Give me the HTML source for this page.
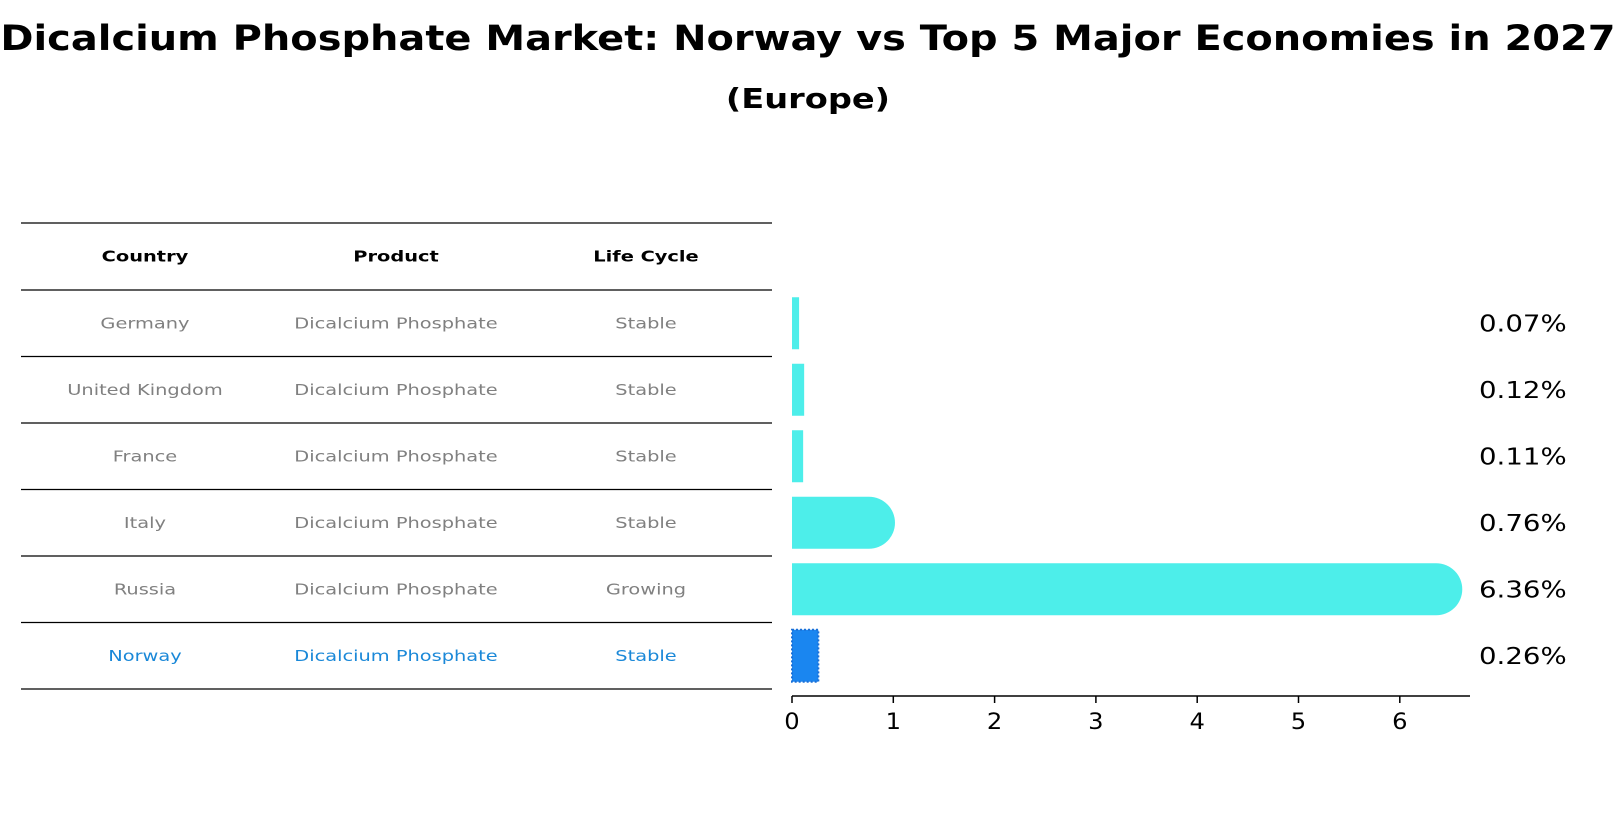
<!DOCTYPE html>
<html><head><meta charset="utf-8">
<style>
html,body{margin:0;padding:0;background:#fff;}
svg{display:block;font-family:"DejaVu Sans","Liberation Sans",sans-serif;}
</style></head>
<body>
<svg id="chart" width="1613" height="823" viewBox="0 0 1613 823" xmlns="http://www.w3.org/2000/svg">
  <text class="st" data-f="1.14" x="808" y="50" text-anchor="middle" font-size="35" font-weight="bold" fill="#000">Dicalcium Phosphate Market: Norway vs Top 5 Major Economies in 2027</text>
  <text class="st" data-f="1.2" x="808" y="108" text-anchor="middle" font-size="28" font-weight="bold" fill="#000">(Europe)</text>
  <g id="table"></g>
  <g id="bars"></g>
  <g id="axis"></g>
</svg>
<script>
const countries = ["Germany","United Kingdom","France","Italy","Russia","Norway"];
const products = ["Dicalcium Phosphate","Dicalcium Phosphate","Dicalcium Phosphate","Dicalcium Phosphate","Dicalcium Phosphate","Dicalcium Phosphate"];
const lifeCycles = ["Stable","Stable","Stable","Stable","Growing","Stable"];
const values = [0.07,0.12,0.11,0.76,6.36,0.26];
const valueLabels = ["0.07%","0.12%","0.11%","0.76%","6.36%","0.26%"];
const xTicks = [0,1,2,3,4,5,6];
const headers = ["Country","Product","Life Cycle"];

const NS = "http://www.w3.org/2000/svg";
function mk(tag, attrs, parent){const e=document.createElementNS(NS,tag);for(const k in attrs)e.setAttribute(k,attrs[k]);parent.appendChild(e);return e;}
const x0 = 792, pxPerUnit = 101.3;
function xs(v){return x0 + v*pxPerUnit;}
const rowTop = 290, rowH = 66.5;
function rowCenter(i){return rowTop + rowH*i + rowH/2;}

const table = document.getElementById('table');
const colX = [145,396,646];
const lineYs = [223];
for(let i=0;i<=countries.length;i++) lineYs.push(rowTop + rowH*i);
lineYs.forEach((y,i)=>{
  const l = mk('line',{x1:21,x2:772,y1:y,y2:y,stroke:'#000','stroke-width':1.2},table);
  
  
});
headers.forEach((h,j)=>{
  const t = mk('text',{class:'st','data-f':'1.25',x:colX[j],y:(223+290)/2+5,'text-anchor':'middle','font-size':15.5,'font-weight':'bold',fill:'#000'},table);
  t.textContent = h;
  
  
});
countries.forEach((c,i)=>{
  const col = c==="Norway" ? "#1a88d8" : "#808080";
  const cells = [c, products[i], lifeCycles[i]];
  cells.forEach((txt,j)=>{
    const t = mk('text',{class:'st','data-f':'1.25',x:colX[j],y:rowCenter(i)+5,'text-anchor':'middle','font-size':15.5,fill:col},table);
    t.textContent = txt;
    
    
  });
});

const bars = document.getElementById('bars');
const barH = 52, r = 26;
values.forEach((v,i)=>{
  const cy = rowCenter(i), top = cy - barH/2;
  const xe = xs(v);
  const isNorway = countries[i]==="Norway";
  let el;
  if(v > 0.3){
    el = mk('path',{d:`M${x0},${top} H${xe} A${r},${r} 0 0 1 ${xe},${top+barH} H${x0} Z`,fill:'#4deeea'},bars);
  } else {
    const attrs = {x:x0,y:top,width:Math.max(xe-x0,1),height:barH,fill:isNorway?'#1a86f0':'#4deeea'};
    if(isNorway){attrs.stroke='#1a70d8';attrs['stroke-width']=2;attrs['stroke-dasharray']='2,2';}
    el = mk('rect',attrs,bars);
  }
  
  
  const t = mk('text',{class:'st','data-f':'1.2',x:1479,y:cy+8,'font-size':23,fill:'#000'},bars);
  t.textContent = valueLabels[i];
  
  
});

const axis = document.getElementById('axis');
const axY = 696;
const al = mk('line',{x1:x0,x2:1470,y1:axY,y2:axY,stroke:'#000','stroke-width':1.5},axis);


xTicks.forEach(v=>{
  const tk = mk('line',{x1:xs(v),x2:xs(v),y1:axY,y2:axY+7,stroke:'#000','stroke-width':1.5},axis);
  
  
  const t = mk('text',{class:'st','data-f':'1.1',x:xs(v),y:axY+33,'text-anchor':'middle','font-size':22,fill:'#000'},axis);
  t.textContent = String(v);
  
  
});

document.querySelectorAll('text.st').forEach(t=>{
  const f = parseFloat(t.getAttribute('data-f')||'1');
  const w = t.getComputedTextLength();
  if(w>0){t.setAttribute('textLength', (w*f).toFixed(1)); t.setAttribute('lengthAdjust','spacingAndGlyphs');}
});
</script>
</body></html>
